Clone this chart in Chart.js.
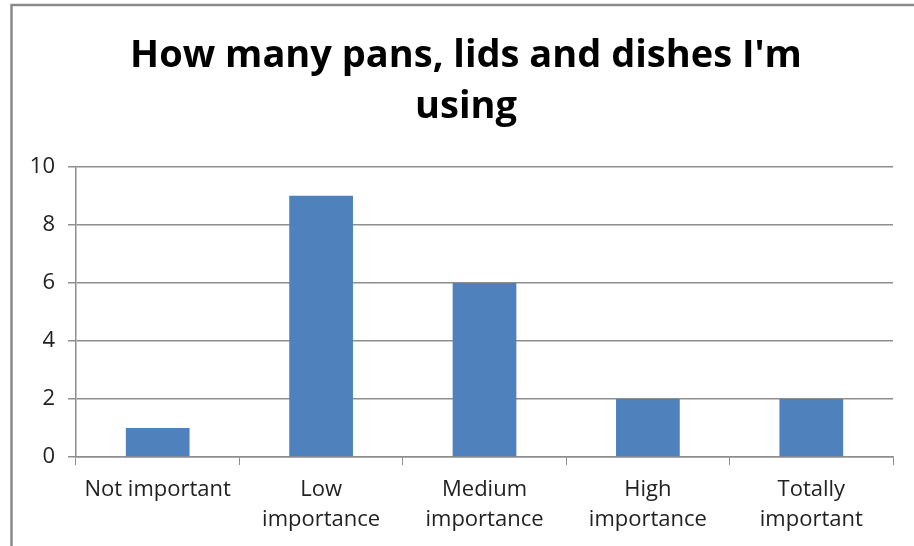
<!DOCTYPE html>
<html>
<head>
<meta charset="utf-8">
<script src="https://cdn.jsdelivr.net/npm/chart.js@4"></script>
<style>
  html, body { margin: 0; padding: 0; background: #fff; }
  #wrap { position: relative; width: 914px; height: 546px; }
</style>
</head>
<body>
<div id="wrap"><canvas id="myChart"></canvas></div>
<script>
var categories = [
    ['Not important'],
    ['Low', 'importance'],
    ['Medium', 'importance'],
    ['High', 'importance'],
    ['Totally', 'important']
];
var counts = [1, 9, 6, 2, 2];
var yTicks = [0, 2, 4, 6, 8, 10];

var fontFamily = "'Open Sans', sans-serif";
var gridGray = '#8e8e8e';

// grey frame around the chart object (top and left edges are visible)
var frame = {
    id: 'frame',
    beforeDraw: function (chart) {
        var c = chart.ctx;
        c.save();
        c.strokeStyle = '#8a8a8a';
        c.lineWidth = 2.5;
        c.beginPath();
        c.moveTo(11.5, chart.height);
        c.lineTo(11.5, 5);
        c.lineTo(chart.width, 5);
        c.stroke();
        c.restore();
    }
};

var ctx = document.getElementById('myChart');
var myChart = new Chart(ctx, {
    type: 'bar',
    data: {
        labels: categories,
        datasets: [{
            data: counts,
            backgroundColor: '#4F81BD',
            borderWidth: 0,
            categoryPercentage: 1,
            barPercentage: 0.39
        }]
    },
    options: {
        responsive: true,
        maintainAspectRatio: false,
        animation: false,
        layout: {
            padding: { left: 30, right: 12, top: 0, bottom: 0 }
        },
        plugins: {
            legend: { display: false },
            tooltip: { enabled: false },
            title: {
                display: true,
                text: ["How many pans, lids and dishes I'm", 'using'],
                color: '#000',
                font: { family: fontFamily, size: 38, weight: 'bold', lineHeight: 1.34 },
                padding: { top: 31, bottom: 34 }
            }
        },
        scales: {
            x: {
                grid: {
                    offset: true,
                    drawOnChartArea: false,
                    drawTicks: true,
                    tickLength: 8,
                    color: gridGray
                },
                border: { display: true, color: gridGray, width: 1.5 },
                ticks: {
                    color: '#222',
                    maxRotation: 0,
                    padding: 10,
                    font: { family: fontFamily, size: 22, lineHeight: 1.36 }
                },
                afterFit: function (scale) { scale.height = 89; }
            },
            y: {
                min: 0,
                max: 10,
                afterBuildTicks: function (scale) {
                    scale.ticks = yTicks.map(function (v) { return { value: v }; });
                },
                grid: {
                    color: gridGray,
                    lineWidth: 1.5,
                    tickLength: 8
                },
                border: { display: true, color: gridGray, width: 1.5 },
                ticks: {
                    color: '#222',
                    padding: 13,
                    font: { family: fontFamily, size: 22 }
                },
                afterFit: function (scale) { scale.width = 46; }
            },
            // empty strip on the right so the plot ends short of the frame
            spacer: {
                type: 'linear',
                position: 'right',
                display: true,
                grid: { display: false },
                border: { display: false },
                ticks: { display: false },
                afterFit: function (scale) { scale.width = 9; }
            }
        }
    },
    plugins: [frame]
});
</script>
</body>
</html>
